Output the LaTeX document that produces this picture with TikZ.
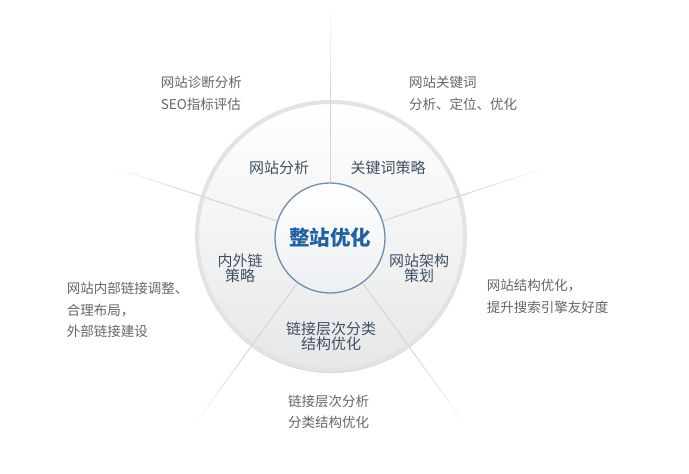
\documentclass[tikz,border=0pt]{standalone}
\usepackage{fontspec}
\setmainfont{Noto Sans CJK SC}
\usetikzlibrary{calc,shadows}

\definecolor{ringrim}{HTML}{E3E3E3}
\definecolor{ringlow}{HTML}{E6E7E8}
\definecolor{hubline}{HTML}{6F8DAD}
\definecolor{hublow}{HTML}{ECEFF3}
\definecolor{titleblue}{HTML}{1F62A5}
\definecolor{partgray}{HTML}{3E5064}
\definecolor{notegray}{HTML}{666666}
\definecolor{spokegray}{HTML}{D6D6D6}

\tikzset{
    ring/.style={circle, minimum size=268pt, inner sep=0pt, draw=ringrim, line width=4pt,
        top color=white, bottom color=ringlow,
        drop shadow={shadow xshift=0pt, shadow yshift=-3pt, fill=black!30, opacity=.5}},
    hub/.style={circle, minimum size=110pt, inner sep=0pt, draw=hubline, line width=1.3pt,
        top color=white, bottom color=hublow, text=titleblue,
        font=\fontsize{20.5}{24}\selectfont\bfseries},
    part/.style={text=partgray, font=\fontsize{15}{15}\selectfont, align=center, inner sep=0pt},
    note/.style={text=notegray, font=\fontsize{13.5}{21.5}\selectfont, align=left,
        anchor=north west, inner sep=0pt},
    spoke/.style={draw=spokegray, line width=1pt}
}

\begin{document}
\begin{tikzpicture}[x=1pt, y=1pt]
        \fill[white] (0,0) rectangle (689,474);

        \node[ring] (ring) at (331,238) {};
        \node[hub] (hub) at (330,236) {整站优化};

        % spokes, fading out past the ring
        \foreach \a [count=\i] in {90,18,-54,-126,162}{
            \coordinate (rim-\i) at ($(hub.center)+(\a:136)$);
            \coordinate (tip-\i) at ($(hub.center)+(\a:226)$);
            \draw[spoke] (hub.\a) -- (rim-\i);
            \foreach \k [evaluate=\k as \op using 1-\k/10] in {0,...,9}
                \draw[spoke, draw opacity=\op] ($(rim-\i)!\k/10!(tip-\i)$) -- ($(rim-\i)!\k/10+0.1!(tip-\i)$);
        }

        \node[part] (p-analyse) at (279,306) {网站分析};
        \node[part] (p-keyword) at (388,306) {关键词策略};
        \node[part] (p-links) at (240,206) {内外链\\策略};
        \node[part] (p-arch) at (419,206) {网站架构\\策划};
        \node[part] (p-level) at (331,138) {链接层次分类\\结构优化};

        \node[note] (n-analyse) at (160.7,398) {网站诊断分析\\SEO指标评估};
        \node[note] (n-keyword) at (409,398) {网站关键词\\分析、定位、优化};
        \node[note] (n-arch) at (486.7,194.8) {网站结构优化，\\提升搜索引擎友好度};
        \node[note] (n-links) at (66.7,191.8) {网站内部链接调整、\\合理布局，\\外部链接建设};
        \node[note] (n-level) at (288,79.1) {链接层次分析\\分类结构优化};
\end{tikzpicture}
\end{document}
